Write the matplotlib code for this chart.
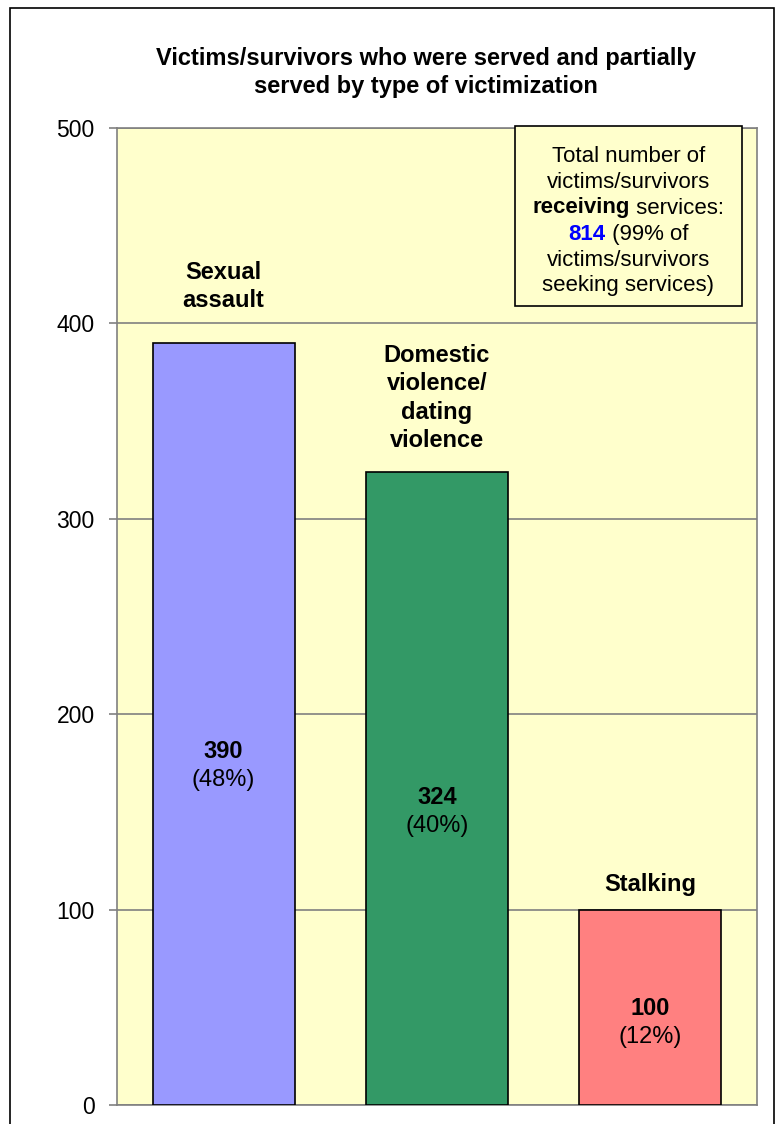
import matplotlib
matplotlib.use("Agg")
import matplotlib.pyplot as plt
from matplotlib.patches import Rectangle

plt.rcParams["font.family"] = ["Liberation Sans", "DejaVu Sans"]

# ── data ──────────────────────────────────────────────────────────────────────
categories = [["Sexual", "assault"],
              ["Domestic", "violence/", "dating", "violence"],
              ["Stalking"]]
values = [390, 324, 100]
percents = ["48%", "40%", "12%"]
bar_colors = ["#9999FF", "#339966", "#FF8080"]
yticks = [0, 100, 200, 300, 400, 500]

title = "Victims/survivors who were served and partially\nserved by type of victimization"
total_served = 814
total_pct = "99%"

# ── label placement (pixels above bar top / fraction of bar height) ───────────
cat_gap_px = [42, 31, 25]
val_frac = [0.445, 0.463, 0.422]
LINE_PX = 28.5

# ── figure ────────────────────────────────────────────────────────────────────
W, H = 782, 1124
fig = plt.figure(figsize=(W / 100, H / 100), dpi=100)
fig.patch.set_facecolor("white")

# outer chart border (runs off the bottom of the image)
fig.patches.append(Rectangle((10 / W, -0.05), 764 / W, 1.05 - 8 / H,
                             transform=fig.transFigure, fill=False,
                             edgecolor="black", linewidth=1.2))

ax = fig.add_axes([117 / W, 1 - 1105 / H, 640 / W, (1105 - 128) / H])
ax.set_facecolor("#FFFFCC")
ax.set_xlim(-0.5, 2.5)
ax.set_ylim(0, 500)
ax.set_yticks(yticks)
ax.set_xticks([])
ax.tick_params(axis="y", labelsize=16.5, length=6, width=1.2, color="#808080", pad=10)
for s in ax.spines.values():
    s.set_color("#808080")
    s.set_linewidth(1.2)
ax.yaxis.grid(True, color="#808080", linewidth=1.2)
ax.set_axisbelow(True)

x = range(len(values))
ax.bar(x, values, width=0.667, color=bar_colors, edgecolor="black", linewidth=1.2, zorder=3)

for i, (v, p, lines) in enumerate(zip(values, percents, categories)):
    n = len(lines)
    for k, line in enumerate(lines):
        off = cat_gap_px[i] + (n - 1 - k) * LINE_PX
        ax.annotate(line, xy=(i, v), xytext=(0, off), textcoords="offset pixels",
                    ha="center", va="center", fontsize=17, fontweight="bold", zorder=4)
    yc = v * val_frac[i]
    ax.annotate(f"{v}", xy=(i, yc), xytext=(0, LINE_PX / 2), textcoords="offset pixels",
                ha="center", va="center", fontsize=17, fontweight="bold", zorder=4)
    ax.annotate(f"({p})", xy=(i, yc), xytext=(0, -LINE_PX / 2), textcoords="offset pixels",
                ha="center", va="center", fontsize=17, zorder=4)

for k, line in enumerate(title.split("\n")):
    fig.text(426 / W, 1 - (58 + k * 28) / H, line, ha="center", va="center",
             fontsize=17, fontweight="bold")

# ── annotation box ────────────────────────────────────────────────────────────
bx0, by0, bx1, by1 = 515, 126, 742, 306
fig.patches.append(Rectangle((bx0 / W, 1 - by1 / H), (bx1 - bx0) / W, (by1 - by0) / H,
                             transform=fig.transFigure, facecolor="#FFFFCC",
                             edgecolor="black", linewidth=1.2, zorder=5))

box_lines = [
    [("Total number of", "normal", "black")],
    [("victims/survivors", "normal", "black")],
    [("receiving", "bold", "black"), (" services:", "normal", "black")],
    [(f"{total_served}", "bold", "#0000FF"), (f" ({total_pct} of", "normal", "black")],
    [("victims/survivors", "normal", "black")],
    [("seeking services)", "normal", "black")],
]
cx = 0.5 * (bx0 + bx1)
fig.canvas.draw()
renderer = fig.canvas.get_renderer()
for k, parts in enumerate(box_lines):
    yy = 1 - (156 + k * 26) / H
    texts = []
    for s, wt, col in parts:
        t = fig.text(0, yy, s, ha="left", va="center", fontsize=16,
                     fontweight=wt, color=col, zorder=6)
        texts.append(t)
    widths = [t.get_window_extent(renderer).width for t in texts]
    xpos = cx - sum(widths) / 2
    for t, w in zip(texts, widths):
        t.set_x(xpos / W)
        xpos += w

fig.savefig("out.png", dpi=100)
